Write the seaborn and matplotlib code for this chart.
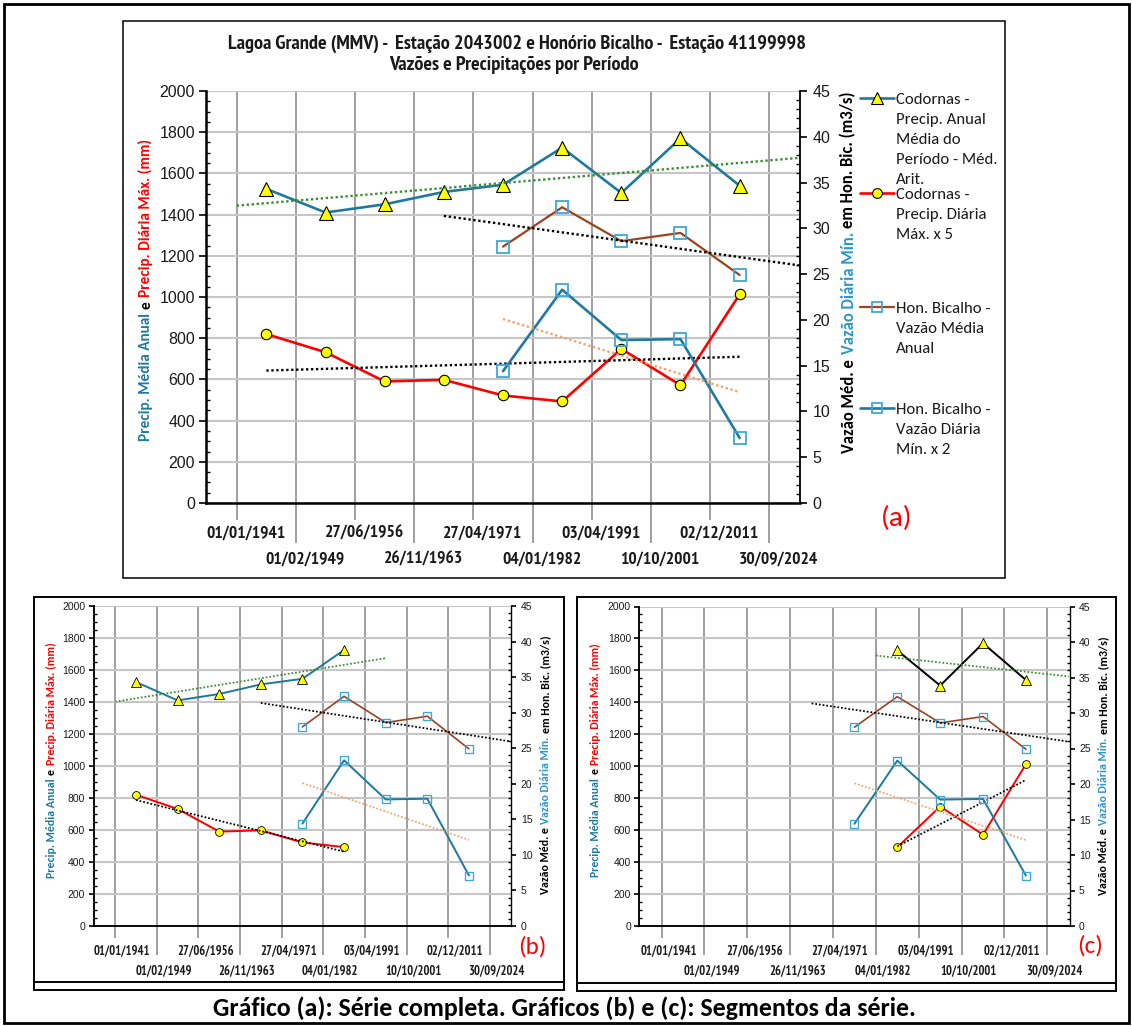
import numpy as np
import matplotlib
matplotlib.use("Agg")
import matplotlib.pyplot as plt
import seaborn as sns
from matplotlib import font_manager
from matplotlib.lines import Line2D
from matplotlib.patches import Rectangle
from matplotlib.ticker import MultipleLocator
from matplotlib.transforms import ScaledTranslation, blended_transform_factory

# ---------------------------------------------------------------- data
# Period boundaries (x axis); values belong to the 9 periods between them
date_labels = ["01/01/1941", "01/02/1949", "27/06/1956", "26/11/1963", "27/04/1971",
               "04/01/1982", "03/04/1991", "10/10/2001", "02/12/2011", "30/09/2024"]

# Codornas (left axis, mm)
precip_anual = [1525, 1410, 1450, 1510, 1545, 1725, 1505, 1770, 1540]
precip_diaria_max_x5 = [820, 732, 590, 598, 522, 493, 748, 572, 1013]

# Honório Bicalho (right axis, m3/s) - available from the 1971-1982 period on
vazao_periods = [4, 5, 6, 7, 8]
vazao_media_anual = [28.0, 32.3, 28.6, 29.5, 24.9]
vazao_diaria_min_x2 = [14.4, 23.3, 17.8, 17.9, 7.1]

title_lines = ["Lagoa Grande (MMV) -  Estação 2043002 e Honório Bicalho -  Estação 41199998",
               "Vazões e Precipitações por Período"]
caption = "Gráfico (a): Série completa. Gráficos (b) e (c): Segmentos da série."

# ---------------------------------------------------------------- style
sns.set_theme(style="ticks")
available = {f.name for f in font_manager.fontManager.ttflist}


def pick(*names):
    for n in names:
        if n in available:
            return n
    return "DejaVu Sans"


NARROW = pick("Liberation Sans Narrow", "Arial Narrow", "PT Sans Narrow", "Open Sans Condensed",
              "Archivo Narrow", "Roboto Condensed", "IBM Plex Sans Condensed",
              "Liberation Sans")
HUMAN = pick("Carlito", "Calibri", "Lato", "Open Sans")
SANS = pick("Liberation Sans", "Arimo", "DejaVu Sans")
plt.rcParams["font.family"] = [SANS, "DejaVu Sans"]

TEAL = "#1F7A9E"
RED = "#FF0000"
BROWN = "#9A4320"
SQ_EDGE = "#3FA7D6"
LBLUE = "#2E95C8"
YELLOW = "#FFFF00"
GREEN_TR = "#3B8E32"
ORANGE_TR = "#F4A46A"
GRID_V = "#8F8F8F"
GRID_H = "#C6C6C6"

W, H = 1132, 1026
fig = plt.figure(figsize=(W / 100, H / 100), dpi=100)
fig.patch.set_facecolor("white")


def fx(px):
    return px / W


def fy(py):
    return 1 - py / H


def renderer():
    return fig.canvas.get_renderer()


def fit_width(text, target_px):
    w = text.get_window_extent(renderer()).width
    text.set_fontsize(text.get_fontsize() * target_px / w)
    return text.get_fontsize()


def vertical_label(parts, xc, yc, target_len, family, gap_em=0.28):
    """Multi-coloured bold label reading bottom to top, centred on (xc, yc)."""
    texts = [fig.text(0, 0, s, color=c, rotation=90, rotation_mode="anchor",
                      ha="left", va="baseline", fontsize=10, fontfamily=family,
                      fontweight="bold") for s, c in parts]
    r = renderer()
    lens = [t.get_window_extent(r).height for t in texts]
    em = 10 * 100 / 72
    total = sum(lens) + gap_em * em * (len(texts) - 1)
    size = 10 * target_len / total
    for t in texts:
        t.set_fontsize(size)
    r = renderer()
    lens = [t.get_window_extent(r).height for t in texts]
    em = size * 100 / 72
    gap = gap_em * em
    total = sum(lens) + gap * (len(texts) - 1)
    y = yc + total / 2
    xb = xc + 0.34 * em
    for t, L in zip(texts, lens):
        t.set_position((fx(xb), fy(y)))
        y -= L + gap


def trend(ax, xs, ys, x_range, color, s):
    k, c = np.polyfit(xs, ys, 1)
    xr = np.array(x_range, dtype=float)
    sns.lineplot(x=xr, y=k * xr + c, ax=ax, color=color, linewidth=1.7 * s,
                 linestyle=(0, (1, 1.1)), legend=False, zorder=5)


def draw_panel(cfg):
    l, t, r, b = cfg["rect"]
    s = cfg["s"]
    ax = fig.add_axes([fx(l), fy(b), fx(r - l), (b - t) / H])
    ax2 = ax.twinx()
    x_mid = np.arange(9) + 0.5

    ia = list(cfg["anual"])
    xa, ya = x_mid[ia], np.array(precip_anual, dtype=float)[ia]
    sns.lineplot(x=xa, y=ya, ax=ax, color=cfg["anual_color"], linewidth=1.9 * s,
                 marker="^", markersize=9.5 * s, markerfacecolor=YELLOW,
                 markeredgecolor="black", markeredgewidth=0.8 * s, legend=False, zorder=3)
    trend(ax, xa, ya, cfg["anual_trend"], GREEN_TR, s)

    im = list(cfg["maxi"])
    xm, ym = x_mid[im], np.array(precip_diaria_max_x5, dtype=float)[im]
    sns.lineplot(x=xm, y=ym, ax=ax, color=RED, linewidth=1.9 * s,
                 marker="o", markersize=7.5 * s, markerfacecolor=YELLOW,
                 markeredgecolor="black", markeredgewidth=0.8 * s, legend=False, zorder=3)
    trend(ax, xm, ym, cfg["max_trend"], "black", s)

    xv = x_mid[vazao_periods]
    sns.lineplot(x=xv, y=vazao_media_anual, ax=ax2, color=BROWN, linewidth=1.6 * s,
                 marker="s", markersize=8 * s, markerfacecolor="none",
                 markeredgecolor=SQ_EDGE, markeredgewidth=1.3 * s, legend=False, zorder=3)
    trend(ax2, xv, vazao_media_anual, (3.5, 9.5), "black", s)
    sns.lineplot(x=xv, y=vazao_diaria_min_x2, ax=ax2, color=TEAL, linewidth=1.9 * s,
                 marker="s", markersize=8 * s, markerfacecolor="none",
                 markeredgecolor=SQ_EDGE, markeredgewidth=1.3 * s, legend=False, zorder=3)
    trend(ax2, xv, vazao_diaria_min_x2, (4.5, 8.5), ORANGE_TR, s)

    # scales
    ax.set_xlim(-0.52, 9.52)
    ax.set_ylim(0, 2000)
    ax2.set_ylim(0, 45)
    ax.set_yticks(np.arange(0, 2001, 200))
    ax.yaxis.set_minor_locator(MultipleLocator(50))
    ax2.set_yticks(np.arange(0, 46, 5))
    ax2.yaxis.set_minor_locator(MultipleLocator(1))
    for a in (ax, ax2):
        a.set_xlabel("")
        a.set_ylabel("")

    ax.set_xticks(np.arange(0, 10, 2))
    ax.set_xticks(np.arange(1, 10, 2), minor=True)
    ax.tick_params(axis="x", which="major", bottom=True, direction="out",
                   length=cfg["tick_len"][0] * 0.72, width=1.2, color=GRID_V,
                   labelbottom=False)
    ax.tick_params(axis="x", which="minor", bottom=True, direction="out",
                   length=cfg["tick_len"][1] * 0.72, width=1.2, color=GRID_V,
                   labelbottom=False)

    ax.tick_params(axis="y", which="major", left=True, direction="out", length=5 * s,
                   width=1.2, color="black", labelsize=cfg["ytick"], labelcolor="#1a1a1a",
                   pad=3 * s)
    ax.tick_params(axis="y", which="minor", left=True, direction="in", length=3 * s,
                   width=1.0, color="black")
    ax2.tick_params(axis="y", which="major", right=True, left=False, direction="out",
                    length=5 * s, width=1.2, color="black", labelsize=cfg["ytick"],
                    labelcolor="#1a1a1a", pad=4 * s)
    ax2.tick_params(axis="y", which="minor", right=True, left=False, direction="in",
                    length=3 * s, width=1.0, color="black")
    for lab in ax.get_yticklabels() + ax2.get_yticklabels():
        lab.set_fontfamily(SANS)

    ax.grid(True, axis="x", which="both", color=GRID_V, linewidth=1.2)
    ax.grid(True, axis="y", which="major", color=GRID_H, linewidth=1.5)
    ax.set_axisbelow(True)

    for name in ("top", "right"):
        ax.spines[name].set_visible(False)
    ax.spines["left"].set_linewidth(1.8 * s)
    ax.spines["bottom"].set_linewidth(1.8 * s)
    ax.spines["left"].set_color("black")
    ax.spines["bottom"].set_color("black")
    for name in ("top", "left", "bottom"):
        ax2.spines[name].set_visible(False)
    ax2.spines["right"].set_linewidth(1.3 * s)
    ax2.spines["right"].set_color("black")

    # staggered period-boundary labels
    trans = blended_transform_factory(ax.transData, ax.transAxes)
    dx = cfg["date_dx"]
    texts = []
    for i, lab in enumerate(date_labels):
        dy = cfg["date_dy"][i % 2]
        off = ScaledTranslation(dx / 100, -dy / 100, fig.dpi_scale_trans)
        texts.append(ax.text(i, 0, lab, transform=trans + off, ha="center", va="center",
                             fontfamily=NARROW, fontweight="bold", fontsize=10,
                             color="#1a1a1a", clip_on=False))
    size = fit_width(texts[0], cfg["date_w"])
    for tx in texts:
        tx.set_fontsize(size)

    vertical_label([("Precip. Média Anual", TEAL), ("e", "black"),
                    ("Precip. Diária Máx. (mm)", RED)], *cfg["ylab_left"], HUMAN)
    vertical_label([("Vazão Méd. e", "black"), ("Vazão Diária Mín.", LBLUE),
                    ("em Hon. Bic. (m3/s)", "black")], *cfg["ylab_right"], HUMAN)
    return ax, ax2


panels = [
    dict(rect=(206, 91, 800, 503), s=1.0, anual=range(9), anual_color=TEAL,
         anual_trend=(0, 9.5), maxi=range(9), max_trend=(0.5, 8.5),
         tick_len=(17, 40), ytick=11.5, date_dx=9, date_dy=(31, 57), date_w=80,
         ylab_left=(145, 290, 303), ylab_right=(848, 272, 361)),
    dict(rect=(93.5, 606, 511.4, 926), s=0.75, anual=range(6), anual_color=TEAL,
         anual_trend=(0, 6.5), maxi=range(6), max_trend=(0.5, 5.5),
         tick_len=(12, 29), ytick=7.5, date_dx=7, date_dy=(25, 45), date_w=57,
         ylab_left=(51, 760, 235), ylab_right=(545, 765, 260)),
    dict(rect=(639.3, 606.5, 1069.6, 926), s=0.75, anual=range(5, 9), anual_color="black",
         anual_trend=(5.0, 9.5), maxi=range(5, 9), max_trend=(5.5, 8.5),
         tick_len=(12, 29), ytick=7.5, date_dx=7, date_dy=(25, 45), date_w=57,
         ylab_left=(594.6, 760, 234), ylab_right=(1103, 766, 258)),
]
for cfg in panels:
    draw_panel(cfg)

# ---------------------------------------------------------------- title (a)
t1 = fig.text(fx(517), fy(44), title_lines[0], ha="center", va="center",
              fontfamily=NARROW, fontweight="bold", fontsize=12, color="#1a1a1a")
tsize = fit_width(t1, 580)
fig.text(fx(514), fy(64.5), title_lines[1], ha="center", va="center",
         fontfamily=NARROW, fontweight="bold", fontsize=tsize, color="#1a1a1a")

# ---------------------------------------------------------------- legend (a)
legend_entries = [
    (98, dict(color=TEAL, marker="^", ms=8, mfc=YELLOW, mec="black", mew=0.8, lw=1.9),
     ["Codornas -", "Precip. Anual", "Média do", "Período - Méd.", "Arit."]),
    (193, dict(color=RED, marker="o", ms=7, mfc=YELLOW, mec="black", mew=0.8, lw=1.9),
     ["Codornas -", "Precip. Diária", "Máx. x 5"]),
    (307, dict(color=BROWN, marker="s", ms=7, mfc="none", mec=SQ_EDGE, mew=1.3, lw=1.6),
     ["Hon. Bicalho -", "Vazão Média", "Anual"]),
    (408, dict(color=TEAL, marker="s", ms=7, mfc="none", mec=SQ_EDGE, mew=1.3, lw=1.9),
     ["Hon. Bicalho -", "Vazão Diária", "Mín. x 2"]),
]
probe = fig.text(0, 0, "Precip. Anual", fontfamily=HUMAN, fontsize=11)
lsize = fit_width(probe, 90)
probe.remove()
lem = lsize * 100 / 72
for yh, st, lines in legend_entries:
    fig.add_artist(Line2D([fx(860), fx(894)], [fy(yh), fy(yh)], transform=fig.transFigure,
                          color=st["color"], lw=st["lw"]))
    fig.add_artist(Line2D([fx(877)], [fy(yh)], transform=fig.transFigure, linestyle="none",
                          marker=st["marker"], ms=st["ms"], mfc=st["mfc"], mec=st["mec"],
                          mew=st["mew"]))
    for k, line in enumerate(lines):
        fig.text(fx(896), fy(yh + 20 * k + 0.34 * lem), line, ha="left", va="baseline",
                 fontfamily=HUMAN, fontsize=lsize, color="#1a1a1a")

# ---------------------------------------------------------------- panel tags
fig.text(fx(897), fy(518), "(a)", color=RED, fontfamily=HUMAN, fontsize=21,
         ha="center", va="center")
fig.text(fx(532), fy(947), "(b)", color=RED, fontfamily=HUMAN, fontsize=18,
         ha="center", va="center")
fig.text(fx(1090), fy(946), "(c)", color=RED, fontfamily=HUMAN, fontsize=18,
         ha="center", va="center")

# ---------------------------------------------------------------- frames
def box(l, t, r, b, lw):
    fig.add_artist(Rectangle((fx(l), fy(b)), (r - l) / W, (b - t) / H,
                             transform=fig.transFigure, fill=False,
                             edgecolor="black", linewidth=lw))


def hline(x0, x1, y, lw):
    fig.add_artist(Line2D([fx(x0), fx(x1)], [fy(y), fy(y)], transform=fig.transFigure,
                          color="black", lw=lw))


box(3.5, 3.5, 1128.5, 1022.5, 2.0)
box(123, 20.5, 1005, 578, 1.1)
box(34, 596.5, 564, 990, 1.4)
hline(34, 564, 982, 1.4)
box(577, 596.5, 1116, 991, 1.4)
hline(577, 1116, 983, 1.4)

# ---------------------------------------------------------------- caption
cap = fig.text(fx(564), fy(1008), caption, ha="center", va="center",
               fontfamily=HUMAN, fontweight="bold", fontsize=15, color="black")
fit_width(cap, 707)

fig.savefig("out.png", dpi=100, facecolor="white")
